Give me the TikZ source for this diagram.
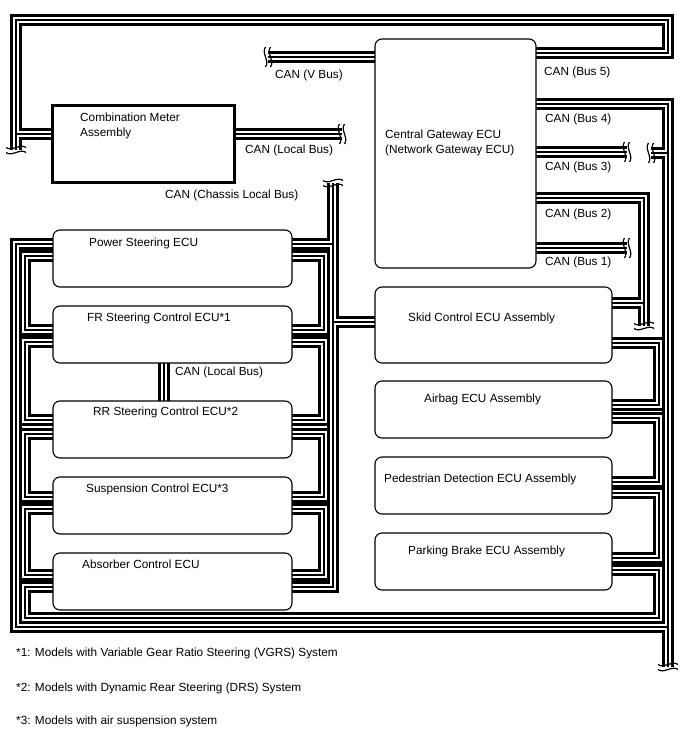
\documentclass[tikz,border=0pt]{standalone}
\usepackage{fontspec}
\setmainfont{Liberation Sans}
\usetikzlibrary{positioning,backgrounds}

\tikzset{
  ecu/.style={draw, rounded corners=7pt, line width=1.1pt, fill=white, anchor=north west, inner sep=0pt, outer sep=0pt},
  meterbox/.style={draw, line width=3pt, fill=white, anchor=north west, inner sep=0pt, outer sep=0pt},
  txt/.style={font=\fontsize{11.8}{15}\selectfont, anchor=west, align=left, inner sep=0pt},
  canbus/.style={line width=12pt, postaction={draw, white, line width=5.6pt}, postaction={draw, black, line width=1.5pt}},
  brk/.pic={
    \draw[line width=1.2pt] (-2.5,-10) .. controls (-7,-4) and (2,4) .. (-2.5,10);
    \draw[line width=1.2pt] (2.5,-10) .. controls (-2,-4) and (7,4) .. (2.5,10);
  }
}

\begin{document}
\begin{tikzpicture}[x=1pt, y=-1pt]
  \useasboundingbox (0,0) rectangle (688,755);

  % ECU boxes
  \node[meterbox, minimum width=182pt, minimum height=77pt] (meter) at (52,105) {};
  \node[ecu, minimum width=161pt, minimum height=229pt] (gw) at (375,39) {};
  \foreach \n/\y in {ps/230, fr/306, rr/401, sus/477, absorb/553}
    \node[ecu, minimum width=239pt, minimum height=57pt] (\n) at (53,\y) {};
  \node[ecu, minimum width=237pt, minimum height=76pt] (skid) at (375,287) {};
  \foreach \n/\y in {air/381, ped/457, park/533}
    \node[ecu, minimum width=237pt, minimum height=57pt] (\n) at (375,\y) {};

  % box texts
  \node[txt] (metertxt) at (80,126) {Combination Meter\\Assembly};
  \node[txt] (gwtxt) at (385,143) {Central Gateway ECU\\(Network Gateway ECU)};
  \node[txt] (pstxt) at (89,243) {Power Steering ECU};
  \node[txt] (frtxt) at (87,318) {FR Steering Control ECU*1};
  \node[txt] (rrtxt) at (93,412) {RR Steering Control ECU*2};
  \node[txt] (sustxt) at (86,489) {Suspension Control ECU*3};
  \node[txt] (abstxt) at (82,564) {Absorber Control ECU};
  \node[txt] (skidtxt) at (408,318) {Skid Control ECU Assembly};
  \node[txt] (airtxt) at (424,399) {Airbag ECU Assembly};
  \node[txt] (pedtxt) at (384,479) {Pedestrian Detection ECU Assembly};
  \node[txt] (parktxt) at (408,551) {Parking Brake ECU Assembly};

  % bus labels
  \node[txt] (lbV) at (275,75) {CAN (V Bus)};
  \node[txt] (lbLoc) at (245,150) {CAN (Local Bus)};
  \node[txt] (lbChas) at (165,195) {CAN (Chassis Local Bus)};
  \node[txt] (lb5) at (544,72) {CAN (Bus 5)};
  \node[txt] (lb4) at (545,119) {CAN (Bus 4)};
  \node[txt] (lb3) at (545,167) {CAN (Bus 3)};
  \node[txt] (lb2) at (545,214) {CAN (Bus 2)};
  \node[txt] (lb1) at (545,262) {CAN (Bus 1)};
  \node[txt] (lbLoc2) at (175,372) {CAN (Local Bus)};

  % footnotes
  \node[txt] (fn1) at (16,653) {*1: Models with Variable Gear Ratio Steering (VGRS) System};
  \node[txt] (fn2) at (16,688) {*2: Models with Dynamic Rear Steering (DRS) System};
  \node[txt] (fn3) at (16,721) {*3: Models with air suspension system};

  % connection points
  \foreach \n/\a/\b in {ps/14/26, fr/24/36, rr/19/33, sus/20/32, absorb/22/34}{
    \coordinate (\n R1) at ([yshift=-\a pt]\n.north east);
    \coordinate (\n R2) at ([yshift=-\b pt]\n.north east);
    \coordinate (\n L1) at ([yshift=-\a pt]\n.north west);
    \coordinate (\n L2) at ([yshift=-\b pt]\n.north west);
  }
  \foreach \n/\a/\b in {skid/16/56, air/24/37, ped/25/36, park/25/37}{
    \coordinate (\n R1) at ([yshift=-\a pt]\n.north east);
    \coordinate (\n R2) at ([yshift=-\b pt]\n.north east);
  }
  \coordinate (skidL) at ([yshift=-35pt]skid.north west);
  \coordinate (gwV) at ([yshift=-18pt]gw.north west);
  \foreach \k/\d in {5/14, 4/65, 3/113, 2/159, 1/209}
    \coordinate (gw\k) at ([yshift=-\d pt]gw.north east);
  \coordinate (mL) at ([yshift=-29pt]meter.north west);
  \coordinate (mR) at ([yshift=-29pt]meter.north east);

  % cut ends
  \coordinate (brkV) at (268,57);
  \coordinate (brkL) at (342,134);
  \coordinate (brkM) at (16,150);
  \coordinate (brkC) at (333,183);
  \coordinate (brk3) at (627,152);
  \coordinate (brk3b) at (651,153);
  \coordinate (brk2) at (644,326);
  \coordinate (brk1) at (627,248);
  \coordinate (brkB) at (668,667);

  \begin{scope}[on background layer]
    \draw[canbus]
      % gateway buses
      (gwV) -- (brkV)
      (gw5) -- ++(132,0) -- ++(0,-33) -| (brkM)
      (mL) -- (brkM |- mL)
      (mR) -- (brkL)
      (gw4) -| (brkB)
      (brk3b) -- (brkB |- brk3b)
      (gw3) -- (brk3)
      (gw2) -| (brk2)
      (skidR1) -- (brk2 |- skidR1)
      (gw1) -- (brk1)
      % chassis local bus
      (brkC) |- (absorbR2)
      (psR1) -- (brkC |- psR1)
      (skidL) -- (brkC |- skidL)
      ([xshift=-8.5pt]fr.south) -- ([xshift=-8.5pt]rr.north)
      \foreach \a/\b in {ps/fr, fr/rr, rr/sus, sus/absorb}{
        (\a R2) -- ++(32,0) |- (\b R1)
        (\a L2) -- ++(-28,0) |- (\b L1)}
      (psL1) -| (16,627) -| (brkB)
      \foreach \a/\b in {skid/air, air/ped, ped/park}{
        (\a R2) -- ++(47,0) |- (\b R1)}
      (parkR2) -- ++(47,0) |- (25,618) |- (absorbL2);
  \end{scope}

  \pic at (brkV) {brk};
  \pic at (brkL) {brk};
  \pic at (brk3) {brk};
  \pic at (brk3b) {brk};
  \pic at (brk1) {brk};
  \pic[rotate=90] at (brkM) {brk};
  \pic[rotate=90] at (brkC) {brk};
  \pic[rotate=90] at (brk2) {brk};
  \pic[rotate=90] at (brkB) {brk};
\end{tikzpicture}
\end{document}
